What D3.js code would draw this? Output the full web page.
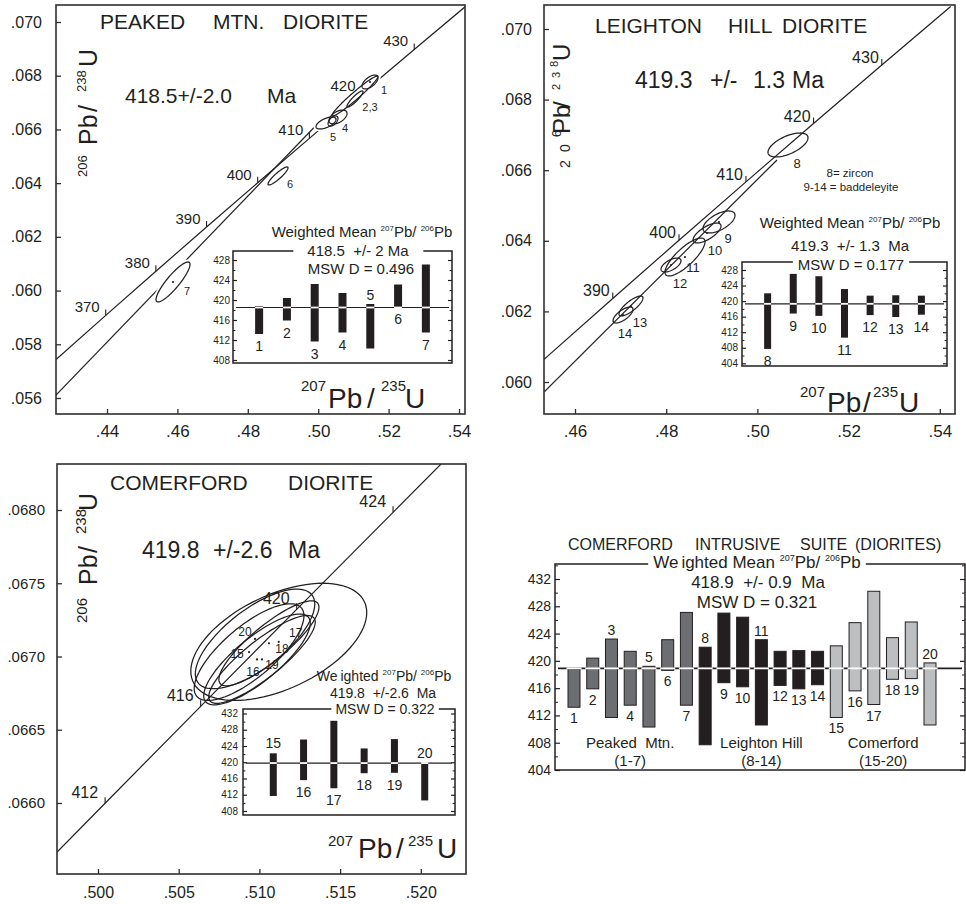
<!DOCTYPE html>
<html><head><meta charset="utf-8">
<script src="https://cdn.jsdelivr.net/npm/d3@7/dist/d3.min.js"></script>
<style>
html,body{margin:0;padding:0;background:#fff;}
svg{display:block;}
text{font-family:"Liberation Sans",Arial,Helvetica,sans-serif;fill:#231f20;}
.pre{white-space:pre;}
</style></head>
<body><svg id="chart" width="966" height="904"></svg>
<script>
// ================= DATA =================
// Concordia (age Ma -> 207Pb/235U, 206Pb/238U)
const concAges = [360,370,380,390,400,410,420,430,440];
const concX = [0.42553,0.43964,0.45389,0.46828,0.48281,0.49749,0.51231,0.52728,0.54239];
const concY = [0.057433,0.059076,0.060720,0.062366,0.064016,0.065668,0.067322,0.068979,0.070638];
const comConcAges = [408,412,416,420,424,428];
const comConcX = [0.49454,0.50044,0.50636,0.51231,0.51828,0.52427];
const comConcY = [0.065337,0.065998,0.066660,0.067322,0.067984,0.068648];
const peakedTickAges = [370,380,390,400,410,420,430];
const leightonTickAges = [390,400,410,420,430];
const comerfordTickAges = [412,416,420,424];
// lower envelope lines
const peakedBandX = [0.42551,0.50108];
const peakedBandY = [0.05611,0.06638];
const leightonBandX = [0.45320,0.50430];
const leightonBandY = [0.059717,0.066289];

// Error ellipses
const peakedLabels = ["","1","2,3","4","5","","6","7"];
const peakedX  = [0.51045,0.51472,0.51045,0.50563,0.50222,0.50421,0.48858,0.45875];
const peakedY  = [0.067245,0.067766,0.067133,0.066463,0.066240,0.066314,0.064267,0.060320];
const peakedSX = [0.00653,0.00227,0.00227,0.00256,0.00284,0.00140,0.00284,0.00483];
const peakedSY = [0.000745,0.00026,0.00030,0.00026,0.000223,0.00019,0.000335,0.000745];
const peakedRho= [0.97,0.6,0.9,0.5,0.6,0.5,0.9,0.88];
const peakedDot= [0,1,0,0,0,0,0,1];

const leightonLabels = ["8","9","10","11","12","13","14"];
const leightonX  = [0.50671,0.49158,0.48895,0.48412,0.48105,0.47228,0.47053];
const leightonY  = [0.066714,0.064533,0.064221,0.063541,0.063314,0.062153,0.061898];
const leightonSX = [0.00439,0.00351,0.00307,0.00439,0.00219,0.00263,0.00219];
const leightonSY = [0.00034,0.000312,0.000283,0.000538,0.000198,0.000283,0.000227];
const leightonRho= [0.6,0.6,0.7,0.8,0.6,0.8,0.7];
const leightonDot= [0,1,1,1,1,1,1];

const comerfordLabels = ["15","16","17","18","19","20"];
const comerfordX  = [0.50936,0.50985,0.51120,0.51059,0.51016,0.50973];
const comerfordY  = [0.06703,0.06698,0.06710,0.06709,0.06698,0.06712];
const comerfordSX = [0.0034,0.0033,0.00545,0.0031,0.0033,0.0037];
const comerfordSY = [0.00033,0.00031,0.00040,0.00029,0.00030,0.00034];
const comerfordRho= [0.75,0.8,0.5,0.85,0.85,0.7];
const comerfordDot= [1,1,1,1,1,1];

// Axis ticks
const peakedXTicks = [0.44,0.46,0.48,0.50,0.52,0.54];
const peakedXTickLabels = [".44",".46",".48",".50",".52",".54"];
const peakedYTicks = [0.056,0.058,0.060,0.062,0.064,0.066,0.068,0.070];
const peakedYTickLabels = [".056",".058",".060",".062",".064",".066",".068",".070"];
const leightonXTicks = [0.46,0.48,0.50,0.52,0.54];
const leightonXTickLabels = [".46",".48",".50",".52",".54"];
const leightonYTicks = [0.060,0.062,0.064,0.066,0.068,0.070];
const leightonYTickLabels = [".060",".062",".064",".066",".068",".070"];
const comerfordXTicks = [0.500,0.505,0.510,0.515,0.520];
const comerfordXTickLabels = [".500",".505",".510",".515",".520"];
const comerfordYTicks = [0.0660,0.0665,0.0670,0.0675,0.0680];
const comerfordYTickLabels = [".0660",".0665",".0670",".0675",".0680"];

// Weighted-mean 207Pb/206Pb ages per grain (Ma)
const grainIds  = [1,2,3,4,5,6,7,8,9,10,11,12,13,14,15,16,17,18,19,20];
const grainLow  = [413.2,415.9,411.7,413.5,410.3,418.6,413.5,407.7,416.8,416.2,410.6,416.4,415.9,416.5,411.7,415.6,413.6,417.3,417.4,410.6];
const grainHigh = [418.8,420.4,423.2,421.4,419.2,423.1,427.1,422.0,427.0,426.4,423.1,421.4,421.5,421.4,422.2,425.6,430.2,423.4,425.7,419.7];
const grainGroup= [0,0,0,0,0,0,0,1,1,1,1,1,1,1,2,2,2,2,2,2];
const groupNames = ["Peaked  Mtn.","Leighton Hill","Comerford"];
const groupRanges = ["(1-7)","(8-14)","(15-20)"];
const peakedIds = [1,2,3,4,5,6,7];
const leightonIds = [8,9,10,11,12,13,14];
const comerfordIds = [15,16,17,18,19,20];
const meanAges = [418.5,419.3,419.8,418.9];
const peakedInsetTicks = [408,412,416,420,424,428];
const leightonInsetTicks = [404,408,412,416,420,424,428];
const comerfordInsetTicks = [408,412,416,420,424,428,432];
const suiteTicks = [404,408,412,416,420,424,428,432];
const peakedAbove = [5];
const leightonAbove = [];
const comerfordAbove = [15,20];
const suiteAbove = [3,5,8,11,20];

// ================= DRAWING =================
const INK = "#231f20";
const svg = d3.select("#chart");
const defs = svg.append("defs");

function richText(sel, parts){
  let cur = 0;
  parts.forEach(p => {
    const [s, size, rise, dx] = p;
    const r = rise || 0;
    const t = sel.append("tspan").attr("font-size", size).text(s);
    const dy = cur - r;
    if (dy) t.attr("dy", dy);
    if (dx) t.attr("dx", dx);
    cur = r;
  });
  return sel;
}
function placed(x, y, pieces, rotate){
  const t = svg.append("text");
  if (rotate) t.attr("transform", `translate(${x},${y}) rotate(-90)`);
  pieces.forEach(p => t.append("tspan").attr("x", p[2]).attr("y", p[3]).attr("font-size", p[1]).text(p[0]));
  return t;
}
function ellPts(cx, cy, sx, sy, r, x, y){
  const n = 90, k = Math.sqrt(1 - r*r), pts = [];
  for (let i = 0; i < n; i++){
    const t = 2*Math.PI*i/n;
    pts.push([x(cx + sx*Math.cos(t)), y(cy + sy*(r*Math.cos(t) + k*Math.sin(t)))]);
  }
  return pts;
}

function mainPanel(o){
  const g = svg.append("g");
  const x = d3.scaleLinear().domain(o.xDom).range(o.xRng);
  const y = d3.scaleLinear().domain(o.yDom).range(o.yRng);
  const cid = "clip-" + o.id;
  defs.append("clipPath").attr("id", cid).append("rect")
    .attr("x", o.L).attr("y", o.T).attr("width", o.R - o.L).attr("height", o.B - o.T);
  const plot = g.append("g").attr("clip-path", `url(#${cid})`);
  const line = d3.line().x(d => x(d[0])).y(d => y(d[1]));
  plot.append("path").attr("d", line(d3.zip(o.cX, o.cY))).attr("fill","none").attr("stroke",INK).attr("stroke-width",1.2);
  if (o.bX) plot.append("path").attr("d", line(d3.zip(o.bX, o.bY))).attr("fill","none").attr("stroke",INK).attr("stroke-width",1.2);
  o.tickAges.forEach(a => {
    const i = o.cAges.indexOf(a);
    const px = x(o.cX[i]), py = y(o.cY[i]);
    plot.append("line").attr("x1",px).attr("x2",px).attr("y1",py).attr("y2",py-6).attr("stroke",INK).attr("stroke-width",1.1);
    g.append("text").attr("x", px + o.ageDx).attr("y", py + o.ageDy).attr("text-anchor","end").attr("font-size", o.ageFont).text(a);
  });
  // ellipses
  const E = o.ell;
  const paths = E.x.map((cx, i) => ellPts(cx, E.y[i], E.sx[i], E.sy[i], E.rho[i], x, y));
  const closed = d3.line().curve(d3.curveLinearClosed);
  if (o.fillEll){
    paths.forEach(p => plot.append("path").attr("d", closed(p)).attr("fill","#fff").attr("stroke","#fff").attr("stroke-width",5));
  }
  paths.forEach(p => plot.append("path").attr("d", closed(p)).attr("fill","none").attr("stroke",INK).attr("stroke-width",1.25));
  E.x.forEach((cx, i) => {
    if (E.dot[i]) plot.append("circle").attr("cx", x(cx)).attr("cy", y(E.y[i])).attr("r", 1.1).attr("fill", INK);
    if (E.labels[i]) g.append("text").attr("x", x(cx) + o.lblOff[i][0]).attr("y", y(E.y[i]) + o.lblOff[i][1])
      .attr("text-anchor","middle").attr("dy","0.35em").attr("font-size", o.lblFont).text(E.labels[i]);
  });
  // frame
  g.append("rect").attr("x",o.L).attr("y",o.T).attr("width",o.R-o.L).attr("height",o.B-o.T)
    .attr("fill","none").attr("stroke","#2e2e2e").attr("stroke-width",1.6);
  // axes
  const xa = g.append("g").attr("transform",`translate(0,${o.B})`)
    .call(d3.axisBottom(x).tickValues(o.xTicks).tickFormat((d,i) => o.xTickLabels[i]).tickSizeInner(-5).tickSizeOuter(0));
  xa.select(".domain").remove();
  xa.attr("font-family", null).attr("font-size", o.xTickFont).attr("color", "#2e2e2e");
  xa.selectAll("line").attr("stroke-width", 1.3);
  xa.selectAll("text").attr("y", o.xLabY).attr("dy", null);
  const ya = g.append("g").attr("transform",`translate(${o.L},0)`)
    .call(d3.axisLeft(y).tickValues(o.yTicks).tickFormat((d,i) => o.yTickLabels[i]).tickSizeInner(-5).tickSizeOuter(0).tickPadding(o.yPad));
  ya.select(".domain").remove();
  ya.attr("font-family", null).attr("font-size", o.yTickFont).attr("color", "#2e2e2e");
  ya.selectAll("line").attr("stroke-width", 1.3);
  return {x, y};
}

function inset(o){
  const g = svg.append("g");
  const y = d3.scaleLinear().domain(o.vDom).range(o.vRng);
  const x = d3.scalePoint().domain(o.ids).range(o.xRng).padding(o.pad);
  const texts = o.lines.map(l => {
    const t = g.append("text").attr("class","pre").attr("x", l.cx).attr("y", l.y).attr("text-anchor","middle").attr("font-size", l.size);
    richText(t, l.parts);
    return t;
  });
  const bb = texts[o.breakIdx].node().getBBox();
  const gap0 = bb.x - o.gapPad, gap1 = bb.x + bb.width + o.gapPad;
  g.append("path").attr("d", `M${gap0},${o.T}H${o.L}V${o.B}H${o.R}V${o.T}H${gap1}`)
    .attr("fill","none").attr("stroke",INK).attr("stroke-width",1.5);
  const minor = o.major.map(v => v + 2).filter(v => y(v) > o.T + 1);
  const la = g.append("g").attr("transform",`translate(${o.L},0)`)
    .call(d3.axisLeft(y).tickValues(o.major).tickSizeInner(-o.tk).tickSizeOuter(0).tickPadding(o.tp));
  la.select(".domain").remove(); la.attr("font-family", null).attr("font-size", o.tf).attr("color", INK);
  la.selectAll("line").attr("stroke-width", 1.2);
  const lm = g.append("g").attr("transform",`translate(${o.L},0)`)
    .call(d3.axisLeft(y).tickValues(minor).tickSizeInner(-o.tk*0.6).tickSizeOuter(0).tickFormat(""));
  lm.select(".domain").remove(); lm.attr("color", INK);
  const ra = g.append("g").attr("transform",`translate(${o.R},0)`)
    .call(d3.axisRight(y).tickValues(o.major).tickSizeInner(-o.tk).tickSizeOuter(0).tickFormat(""));
  ra.select(".domain").remove(); ra.attr("color", INK); ra.selectAll("line").attr("stroke-width", 1.2);
  const rm = g.append("g").attr("transform",`translate(${o.R},0)`)
    .call(d3.axisRight(y).tickValues(minor).tickSizeInner(-o.tk*0.6).tickSizeOuter(0).tickFormat(""));
  rm.select(".domain").remove(); rm.attr("color", INK);
  // mean line
  const my = y(o.mean);
  g.append("line").attr("x1", o.L + 3).attr("x2", o.R - 3).attr("y1", my).attr("y2", my)
    .attr("stroke", INK).attr("stroke-width", o.meanW);
  // bars
  g.selectAll("rect.bar").data(o.ids).join("rect").attr("class","bar")
    .attr("x", d => x(d) - o.bw/2).attr("width", o.bw)
    .attr("y", d => y(grainHigh[d-1])).attr("height", d => y(grainLow[d-1]) - y(grainHigh[d-1]))
    .attr("fill", d => o.fill(d)).attr("stroke", o.stroke ? INK : "none").attr("stroke-width", 1);
  g.selectAll("line.gap").data(o.ids).join("line").attr("class","gap")
    .attr("x1", d => x(d) - o.bw/2 - o.gapExt).attr("x2", d => x(d) + o.bw/2 + o.gapExt)
    .attr("y1", my).attr("y2", my).attr("stroke", "#fff").attr("stroke-width", 1.8);
  g.selectAll("text.num").data(o.ids).join("text").attr("class","num")
    .attr("x", d => x(d)).attr("text-anchor","middle").attr("font-size", o.nf)
    .attr("y", d => o.above.includes(d) ? y(grainHigh[d-1]) - o.aOff : y(grainLow[d-1]) + o.bOff)
    .text(d => d);
  return {x, y, g};
}

function wmTitle(size, sup, rise, withMean, split){
  const p = split ? [["We", size], ["ighted", size, 0, 3]] : [["Weighted", size]];
  p.push([withMean ? " Mean " : " ", size]);
  p.push(["207", sup, rise], ["Pb/ ", size, 0], ["206", sup, rise], ["Pb", size, 0]);
  return p;
}

// ---------- Top-left: Peaked Mtn ----------
mainPanel({id:"tl", L:56, T:5, R:465, B:414, xDom:[0.44,0.54], xRng:[107,459], yDom:[0.056,0.070], yRng:[398,22],
  cAges:concAges, cX:concX, cY:concY, bX:peakedBandX, bY:peakedBandY, tickAges:peakedTickAges, ageDx:-6, ageDy:-3, ageFont:15,
  ell:{labels:peakedLabels, x:peakedX, y:peakedY, sx:peakedSX, sy:peakedSY, rho:peakedRho, dot:peakedDot}, fillEll:true,
  lblOff:[[0,0],[14,8],[15,8],[7,11],[7,14],[0,0],[12,8],[14,9]], lblFont:11,
  xTicks:peakedXTicks, xTickLabels:peakedXTickLabels, yTicks:peakedYTicks, yTickLabels:peakedYTickLabels,
  xLabY:23, xTickFont:17, yPad:14, yTickFont:16});
placed(0, 29, [["PEAKED",21,100,29],["MTN.",21,213,29],["DIORITE",21,283,29]]);
placed(0, 103, [["418.5+/-2.0",21,125,103],["Ma",21,267,103]]);
placed(97, 177, [["206",13,0,-10],["Pb",25,32,0],["/",25,65,0],["238",13,85,-11],["U",25,110,0]], true);
placed(0, 0, [["207",15,301,391],["Pb",28,328,408],["/",28,367,408],["235",15,381,391],["U",28,405,408]]);
inset({L:233, R:452, T:251, B:363, vDom:[408,428], vRng:[360,260], ids:peakedIds, xRng:[233,452], pad:0.94,
  major:peakedInsetTicks, tk:4, tp:3, tf:10, mean:meanAges[0], meanW:1.2, bw:8, fill:() => INK, stroke:false, gapExt:0,
  above:peakedAbove, aOff:4, bOff:17, nf:14, breakIdx:1, gapPad:14,
  lines:[{cx:362, y:237, size:15, parts:wmTitle(15,8,6,true,false)},
         {cx:358, y:256, size:15, parts:[["418.5  +/- 2 Ma",15]]},
         {cx:361, y:274, size:15, parts:[["MSW D = 0.496",15]]}]});

// ---------- Top-right: Leighton Hill ----------
mainPanel({id:"tr", L:544, T:5, R:955, B:414, xDom:[0.46,0.54], xRng:[575,939.8], yDom:[0.060,0.070], yRng:[382,29],
  cAges:concAges, cX:concX, cY:concY, bX:leightonBandX, bY:leightonBandY, tickAges:leightonTickAges, ageDx:-3, ageDy:-2, ageFont:16,
  ell:{labels:leightonLabels, x:leightonX, y:leightonY, sx:leightonSX, sy:leightonSY, rho:leightonRho, dot:leightonDot}, fillEll:false,
  lblOff:[[9,18],[9,16],[8,17],[8,10],[9,18],[9,16],[2,18]], lblFont:13,
  xTicks:leightonXTicks, xTickLabels:leightonXTickLabels, yTicks:leightonYTicks, yTickLabels:leightonYTickLabels,
  xLabY:23, xTickFont:17, yPad:12, yTickFont:16});
placed(0, 33, [["LEIGHTON",21,595,33],["HILL",21,728,33],["DIORITE",21,782,33]]);
placed(0, 88, [["419.3",23,635,88],["+/-",23,710,88],["1.3",23,753,88],["Ma",23,792,88]]);
placed(570, 168, [["2",14,0,0],["0",14,16,0],["6",12,31,-9],["Pb",24,34,0],["/",24,60,0],["2",11,78,-10],["3",11,90,-10],["8",11,101,-12],["U",24,107,0]], true);
placed(0, 0, [["207",15,800,397],["Pb",28,827,412],["/",28,863,412],["235",15,873,397],["U",28,899,412]]);
svg.append("text").attr("x",850).attr("y",177).attr("text-anchor","middle").attr("font-size",11.5).text("8= zircon");
svg.append("text").attr("x",851).attr("y",191).attr("text-anchor","middle").attr("font-size",11.5).text("9-14 = baddeleyite");
inset({L:742, R:947, T:262, B:366, vDom:[404,428], vRng:[363.3,270], ids:leightonIds, xRng:[742,947], pad:1.0,
  major:leightonInsetTicks, tk:4, tp:4, tf:10, mean:meanAges[1], meanW:1.2, bw:7, fill:() => INK, stroke:false, gapExt:0,
  above:leightonAbove, aOff:4, bOff:17, nf:14, breakIdx:2, gapPad:5,
  lines:[{cx:850, y:228, size:15, parts:wmTitle(15,8,6,true,false)},
         {cx:850, y:251, size:15, parts:[["419.3  +/- 1.3  Ma",15]]},
         {cx:851, y:270, size:15, parts:[["MSW D = 0.177",15]]}]});

// ---------- Bottom-left: Comerford ----------
mainPanel({id:"bl", L:57, T:464, R:466, B:874, xDom:[0.500,0.520], xRng:[98,420.8], yDom:[0.0660,0.0680], yRng:[803,510],
  cAges:comConcAges, cX:comConcX, cY:comConcY, bX:null, tickAges:comerfordTickAges, ageDx:-7, ageDy:-5, ageFont:16,
  ell:{labels:comerfordLabels, x:comerfordX, y:comerfordY, sx:comerfordSX, sy:comerfordSY, rho:comerfordRho, dot:comerfordDot}, fillEll:false,
  lblOff:[[-12,2],[-4,12],[17,-9],[13,5],[10,5],[-10,-7]], lblFont:12,
  xTicks:comerfordXTicks, xTickLabels:comerfordXTickLabels, yTicks:comerfordYTicks, yTickLabels:comerfordYTickLabels,
  xLabY:24, xTickFont:16, yPad:12, yTickFont:15});
placed(0, 490, [["COMERFORD",21,110,490],["DIORITE",21,288,490]]);
placed(0, 558, [["419.8",23,142,558],["+/-2.6",23,213,558],["Ma",23,288,558]]);
placed(97, 623, [["206",15,0,-10],["Pb",25,38,0],["/",25,70,0],["238",15,89,-11],["U",25,112,0]], true);
placed(0, 0, [["207",15,328,846],["Pb",28,358,858],["/",28,396,858],["235",15,408,846],["U",28,437,858]]);
inset({L:243, R:455, T:709, B:815, vDom:[408,432], vRng:[811,713.5], ids:comerfordIds, xRng:[243,455], pad:1.0,
  major:comerfordInsetTicks, tk:4, tp:5, tf:10, mean:meanAges[2], meanW:1.2, bw:7, fill:() => INK, stroke:false, gapExt:0,
  above:comerfordAbove, aOff:5, bOff:17, nf:14, breakIdx:2, gapPad:4,
  lines:[{cx:384, y:681, size:14, parts:wmTitle(14,8,6,false,true)},
         {cx:383, y:698, size:14, parts:[["419.8  +/-2.6  Ma",14]]},
         {cx:385, y:714, size:14, parts:[["MSW D = 0.322",14]]}]});

// ---------- Bottom-right: suite summary ----------
const groupFill = ["#6d6e71", INK, "#bcbec0"];
const suite = inset({L:555, R:965, T:564, B:770, vDom:[404,432], vRng:[770,579], ids:grainIds, xRng:[574,930], pad:0,
  major:suiteTicks, tk:5, tp:4, tf:14, mean:meanAges[3], meanW:1.6, bw:12, fill:d => groupFill[grainGroup[d-1]], stroke:true, gapExt:1.5,
  above:suiteAbove, aOff:4, bOff:16, nf:14, breakIdx:0, gapPad:5,
  lines:[{cx:757, y:568, size:17, parts:wmTitle(17,9,7,true,true)},
         {cx:758, y:588, size:17, parts:[["418.9  +/- 0.9  Ma",17]]},
         {cx:757, y:608, size:17, parts:[["MSW D = 0.321",17]]}]});
placed(0, 550, [["COMERFORD",16,568,550],["INTRUSIVE",16,695,550],["SUITE",16,800,550],["(DIORITES)",16,855,550]]);
groupNames.forEach((name, gi) => {
  const xs = grainIds.filter((d, i) => grainGroup[i] === gi).map(d => suite.x(d));
  const cx = d3.mean(xs);
  suite.g.append("text").attr("class","pre").attr("x", cx).attr("y", 748).attr("text-anchor","middle").attr("font-size",15).text(name);
  suite.g.append("text").attr("x", cx).attr("y", 766).attr("text-anchor","middle").attr("font-size",15).text(groupRanges[gi]);
});
</script>
</body></html>
